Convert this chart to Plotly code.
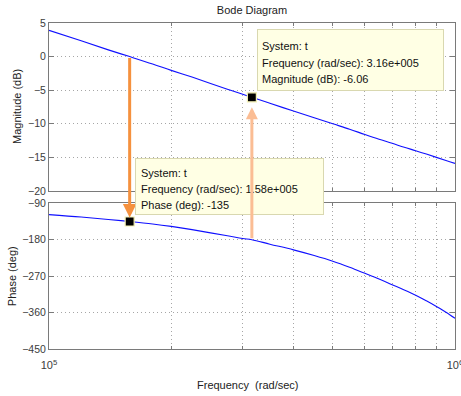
import math
import plotly.graph_objects as go

# ---------------- data ----------------
freq = [1.0e5, 1.2e5, 1.4e5, 1.58e5, 1.8e5, 2.0e5, 2.25e5, 2.5e5, 2.75e5, 3.0e5, 3.16e5,
        3.5e5, 4.0e5, 4.5e5, 5.0e5, 5.5e5, 6.0e5, 6.5e5, 7.0e5, 7.5e5, 8.0e5, 8.5e5,
        9.0e5, 9.5e5, 1.0e6]
magnitude_db = [3.9, 2.35, 1.0, 0.0, -1.1, -2.05, -3.05, -4.0, -4.85, -5.6, -6.06,
                -6.95, -8.1, -9.1, -10.0, -10.8, -11.6, -12.3, -12.9, -13.5, -14.0, -14.5,
                -15.0, -15.45, -15.9]
phase_deg = [-118, -124, -130, -135, -141, -147, -155, -163, -170, -177, -180,
             -191, -205, -219, -233, -248, -263, -277, -291, -304, -317, -331,
             -345, -359, -374]

tip_mag = dict(freq=3.16e5, value=-6.06, phase_at=-180)
tip_phase = dict(freq=1.58e5, value=-135, mag_at=0.0)

mag_ticks = [5, 0, -5, -10, -15, -20]
phase_ticks = [-90, -180, -270, -360, -450]
minor_freq = [2e5, 3e5, 4e5, 5e5, 6e5, 7e5, 8e5, 9e5]
major_freq = [1e5, 1e6]
major_freq_text = ["10<sup>5</sup>", "10<sup>6</sup>"]

# ---------------- layout constants ----------------
W, H = 461, 396
ML, MR, MT, MB = 49, 6, 23, 47
PH = H - MT - MB
dom_top = [0.4847, 1.0]
dom_bot = [0.0, 0.4469]
mag_range = [-20, 5]
ph_range = [-450, -90]

FONT = "Liberation Sans, Arial, sans-serif"
BLUE = "#1010ff"
DARK_OR = "#f5913e"
LIGHT_OR = "#fbbd94"
GRID = "#a6a6a6"
AXC = "#7a7a7a"
TXT = "#3c3c3c"


def px_y(v, dom, rng):
    top = MT + (1 - dom[1]) * PH
    bot = MT + (1 - dom[0]) * PH
    return bot - (v - rng[0]) / (rng[1] - rng[0]) * (bot - top)


fig = go.Figure()
fig.add_trace(go.Scatter(x=freq, y=magnitude_db, mode="lines", line_shape="spline",
                         line=dict(color=BLUE, width=1.1), xaxis="x", yaxis="y",
                         hoverinfo="skip", showlegend=False))
fig.add_trace(go.Scatter(x=freq, y=phase_deg, mode="lines", line_shape="spline",
                         line=dict(color=BLUE, width=1.1), xaxis="x2", yaxis="y2",
                         hoverinfo="skip", showlegend=False))
# datatip markers
fig.add_trace(go.Scatter(x=[tip_mag["freq"]], y=[tip_mag["value"]], mode="markers",
                         marker=dict(symbol="square", size=9, color="black",
                                     line=dict(color="#f3f0b4", width=1.2)),
                         xaxis="x", yaxis="y", showlegend=False, hoverinfo="skip"))
fig.add_trace(go.Scatter(x=[tip_phase["freq"]], y=[tip_phase["value"]], mode="markers",
                         marker=dict(symbol="square", size=9, color="black",
                                     line=dict(color="#f3f0b4", width=1.2)),
                         xaxis="x2", yaxis="y2", showlegend=False, hoverinfo="skip"))

common_x = dict(type="log", range=[4.99999, 6.00001], showline=True, mirror="ticks",
                linecolor=AXC, linewidth=1, ticks="inside", ticklen=5, tickcolor=AXC,
                tickvals=major_freq, ticktext=major_freq_text, automargin=False,
                ticklabeloverflow="allow",
                showgrid=True, gridcolor=GRID, griddash="1px,3px", gridwidth=1,
                zeroline=False,
                minor=dict(tickvals=minor_freq, ticks="inside", ticklen=3,
                           tickcolor=AXC, showgrid=True, gridcolor=GRID,
                           griddash="1px,3px", gridwidth=1),
                tickfont=dict(family=FONT, size=11, color=TXT))
common_y = dict(showline=True, mirror="ticks", linecolor=AXC, linewidth=1,
                ticks="inside", ticklen=5, tickcolor=AXC, zeroline=False,
                automargin=False,
                showgrid=True, gridcolor=GRID, griddash="1px,3px", gridwidth=1,
                tickfont=dict(family=FONT, size=10.5, color=TXT))

fig.update_layout(
    width=W, height=H,
    margin=dict(l=ML, r=MR, t=MT, b=MB, pad=0, autoexpand=False),
    paper_bgcolor="white", plot_bgcolor="white",
    showlegend=False,
    xaxis=dict(common_x, anchor="y", domain=[0, 1], showticklabels=False),
    xaxis2=dict(common_x, anchor="y2", domain=[0, 1], matches="x",
                ticklabelstandoff=6),
    yaxis=dict(common_y, anchor="x", domain=dom_top, range=mag_range,
               tickvals=mag_ticks),
    yaxis2=dict(common_y, anchor="x2", domain=dom_bot, range=ph_range,
                tickvals=phase_ticks),
    title=dict(text="Bode Diagram", x=(ML + (W - ML - MR) / 2) / W, xanchor="center",
               y=1 - 10.5 / H, yanchor="middle", yref="container", automargin=False,
               font=dict(family=FONT, size=11, color="#222")),
)

ann = []
# axis titles
ann.append(dict(text="Magnitude (dB)", xref="paper", yref="paper",
                x=(17 - ML) / (W - ML - MR), y=(dom_top[0] + dom_top[1]) / 2,
                textangle=-90, showarrow=False, xanchor="center", yanchor="middle",
                font=dict(family=FONT, size=11, color="#222")))
ann.append(dict(text="Phase (deg)", xref="paper", yref="paper",
                x=(12 - ML) / (W - ML - MR), y=(dom_bot[0] + dom_bot[1]) / 2,
                textangle=-90, showarrow=False, xanchor="center", yanchor="middle",
                font=dict(family=FONT, size=11, color="#222")))
ann.append(dict(text="Frequency  (rad/sec)", xref="paper", yref="paper",
                x=0.49, y=-(385 - (H - MB)) / PH, showarrow=False,
                xanchor="center", yanchor="middle",
                font=dict(family=FONT, size=11, color="#222")))

# dark arrow: from magnitude curve (top) down to phase datatip
y_tail = px_y(tip_phase["mag_at"], dom_top, mag_range)
y_tip = px_y(tip_phase["value"], dom_bot, ph_range)
ann.append(dict(x=math.log10(tip_phase["freq"]), y=tip_phase["value"], xref="x2", yref="y2",
                showarrow=True, ax=0, ay=y_tail - y_tip, axref="pixel", ayref="pixel",
                arrowhead=2, arrowsize=0.9, arrowwidth=3, arrowcolor=DARK_OR,
                standoff=4, text=""))

# datatip box for magnitude
ann.append(dict(x=math.log10(tip_mag["freq"]), y=tip_mag["value"], xref="x", yref="y",
                xanchor="left", yanchor="bottom", xshift=5, yshift=6,
                text=" ", width=185, height=60, showarrow=False,
                bgcolor="#ffffe4", bordercolor="#d9d8b0", borderwidth=1, borderpad=0))
mag_lines = ["System: t", "Frequency (rad/sec): 3.16e+005",
             "Magnitude (dB): %.2f" % tip_mag["value"]]
for i, t in enumerate(mag_lines):
    ann.append(dict(x=math.log10(tip_mag["freq"]), y=tip_mag["value"], xref="x", yref="y",
                    xanchor="left", yanchor="middle", xshift=9, yshift=51 - 16.5 * i,
                    text=t, showarrow=False, borderpad=0,
                    font=dict(family=FONT, size=11, color="#111")))

# datatip box for phase
ann.append(dict(x=math.log10(tip_phase["freq"]), y=tip_phase["value"], xref="x2", yref="y2",
                xanchor="left", yanchor="bottom", xshift=5, yshift=7,
                text=" ", width=187, height=55, showarrow=False,
                bgcolor="#ffffe4", bordercolor="#d9d8b0", borderwidth=1, borderpad=0))
ph_lines = ["System: t", "Frequency (rad/sec): 1.58e+005",
            "Phase (deg): %d" % tip_phase["value"]]
for i, t in enumerate(ph_lines):
    ann.append(dict(x=math.log10(tip_phase["freq"]), y=tip_phase["value"], xref="x2", yref="y2",
                    xanchor="left", yanchor="middle", xshift=10, yshift=48.5 - 16 * i,
                    text=t, showarrow=False, borderpad=0,
                    font=dict(family=FONT, size=11, color="#111")))

# light arrow: from phase curve (bottom) up to magnitude datatip
y_tail2 = px_y(tip_mag["phase_at"], dom_bot, ph_range)
y_tip2 = px_y(tip_mag["value"], dom_top, mag_range)
ann.append(dict(x=math.log10(tip_mag["freq"]), y=tip_mag["value"], xref="x", yref="y",
                showarrow=True, ax=0, ay=y_tail2 - y_tip2, axref="pixel", ayref="pixel",
                arrowhead=2, arrowsize=0.8, arrowwidth=3, arrowcolor=LIGHT_OR,
                standoff=10, text=""))

fig.update_layout(annotations=ann)
fig.write_html("out.html", config={"displayModeBar": False},
               post_script="document.body.style.margin='0px';"
                           "document.body.style.overflow='hidden';")
